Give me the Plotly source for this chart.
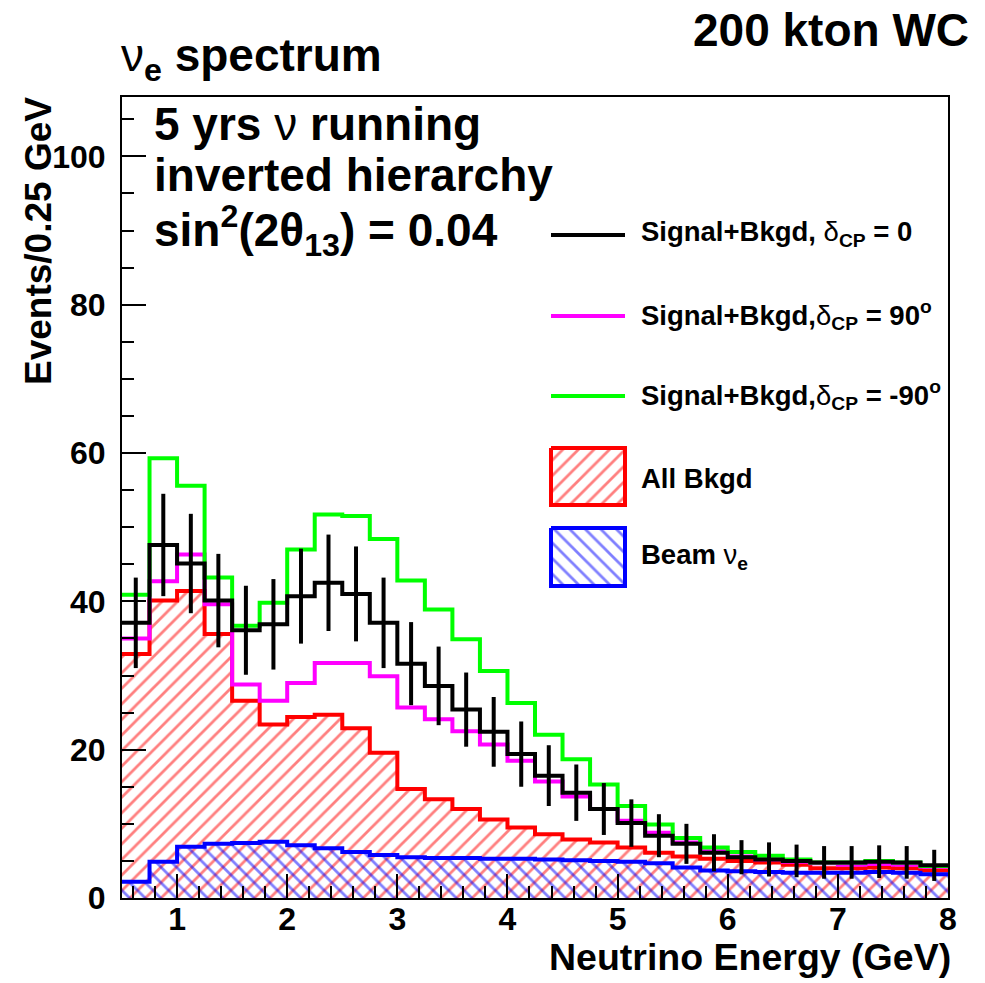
import plotly.graph_objects as go

# ---------------- data ----------------
bin_edges = [0.5 + 0.25 * i for i in range(31)]  # 0.5 ... 8.0 GeV, 0.25 GeV bins

sig_dcp0 = [37.1, 47.6, 45.1, 40.1, 36.1, 36.9, 40.7, 42.5, 41.0, 37.1,
            31.6, 28.6, 25.4, 22.4, 19.4, 16.5, 14.2, 12.0, 10.1, 8.4,
            7.3, 6.1, 5.5, 5.2, 5.0, 4.8, 4.8, 4.9, 4.8, 4.4]
err_dcp0 = [6.1, 6.9, 6.7, 6.3, 6.0, 6.1, 6.4, 6.5, 6.4, 6.1,
            5.6, 5.3, 5.0, 4.7, 4.4, 4.1, 3.8, 3.5, 3.2, 2.9,
            2.7, 2.5, 2.3, 2.3, 2.2, 2.2, 2.2, 2.2, 2.2, 2.1]
sig_dcp90 = [35.0, 42.7, 46.3, 39.6, 28.8, 26.6, 29.0, 31.7, 31.7, 29.9,
             25.7, 24.1, 22.5, 20.7, 18.5, 15.7, 13.7, 12.0, 10.4, 8.8,
             7.5, 6.3, 5.6, 5.2, 4.9, 4.7, 4.5, 4.6, 4.5, 4.2]
sig_dcpm90 = [40.9, 59.3, 55.6, 43.2, 36.7, 39.8, 47.0, 51.7, 51.5, 48.4,
              42.8, 38.9, 34.9, 30.6, 26.3, 22.0, 18.7, 15.3, 12.4, 9.9,
              8.1, 6.8, 6.2, 5.7, 5.2, 4.8, 4.8, 5.0, 4.8, 4.3]
all_bkgd = [32.9, 40.1, 41.4, 35.6, 26.6, 23.4, 24.4, 24.7, 22.9, 19.6,
            14.7, 13.3, 12.0, 10.6, 9.5, 8.6, 7.9, 7.5, 6.8, 6.1,
            5.6, 5.3, 5.0, 4.8, 4.5, 4.0, 4.0, 4.1, 4.0, 3.7]
beam_nue = [2.2, 4.9, 6.9, 7.3, 7.4, 7.6, 7.1, 6.7, 6.2, 5.8,
            5.5, 5.4, 5.4, 5.3, 5.3, 5.2, 5.1, 5.0, 4.9, 4.7,
            4.1, 3.7, 3.6, 3.5, 3.4, 3.4, 3.4, 3.5, 3.4, 3.2]

x_tick_vals = [1, 2, 3, 4, 5, 6, 7, 8]
y_tick_vals = [0, 20, 40, 60, 80, 100]

NU = '<span style="font-weight:normal">ν</span>'
DELTA = '<span style="font-weight:normal">δ</span>'
legend_labels = ["Signal+Bkgd, " + DELTA + "<sub>CP</sub> = 0",
                 "Signal+Bkgd," + DELTA + "<sub>CP</sub> = 90<sup>o</sup>",
                 "Signal+Bkgd," + DELTA + "<sub>CP</sub> = -90<sup>o</sup>",
                 "All Bkgd",
                 "Beam " + NU + "<sub>e</sub>"]

# ---------------- layout geometry ----------------
W, H = 985, 983
L, R, T, B = 122, 37, 97, 85
PW, PH = W - L - R, H - T - B


def px(x):
    return (x - L) / PW


def py(y):
    return (H - B - y) / PH


FONT = "Liberation Sans"
RED, BLUE, MAG, GRN, BLK = "#ff0000", "#0000ff", "#ff00ff", "#00ff00", "#000000"
HATCH_SIZE, HATCH_SOLID = 11, 0.25


def step_y(v):
    return list(v) + [v[-1]]


fig = go.Figure()

# All background (hatched /)
fig.add_trace(go.Scatter(
    x=bin_edges, y=step_y(all_bkgd), mode="lines",
    line=dict(shape="hv", color=RED, width=4),
    fill="tozeroy", fillcolor="rgba(0,0,0,0)",
    fillpattern=dict(shape="/", fgcolor=RED, bgcolor="rgba(0,0,0,0)",
                     size=HATCH_SIZE, solidity=HATCH_SOLID),
    showlegend=False, hoverinfo="skip"))
# Beam nu_e (hatched \)
fig.add_trace(go.Scatter(
    x=bin_edges, y=step_y(beam_nue), mode="lines",
    line=dict(shape="hv", color=BLUE, width=4),
    fill="tozeroy", fillcolor="rgba(0,0,0,0)",
    fillpattern=dict(shape="\\", fgcolor=BLUE, bgcolor="rgba(0,0,0,0)",
                     size=HATCH_SIZE, solidity=HATCH_SOLID),
    showlegend=False, hoverinfo="skip"))
for vals, col in [(sig_dcp90, MAG), (sig_dcpm90, GRN), (sig_dcp0, BLK)]:
    fig.add_trace(go.Scatter(
        x=bin_edges, y=step_y(vals), mode="lines",
        line=dict(shape="hv", color=col, width=4),
        showlegend=False, hoverinfo="skip"))
# error bars for delta_CP = 0
centers = [0.5 * (bin_edges[i] + bin_edges[i + 1]) for i in range(len(sig_dcp0))]
fig.add_trace(go.Scatter(
    x=centers, y=sig_dcp0, mode="markers",
    marker=dict(size=1, color=BLK),
    error_y=dict(type="data", array=err_dcp0, visible=True,
                 color=BLK, thickness=4, width=0),
    showlegend=False, hoverinfo="skip"))

# ---------------- legend (manual, ROOT style) ----------------
shapes = []
line_rows = [(235, BLK), (316, MAG), (396, GRN)]
for yy, col in line_rows:
    shapes.append(dict(type="line", xref="paper", yref="paper",
                       x0=px(551), x1=px(625), y0=py(yy), y1=py(yy),
                       line=dict(color=col, width=4)))
box_rows = [(448, 505, RED, "/"), (528, 586, BLUE, "\\")]
for y0, y1, col, pat in box_rows:
    fig.add_trace(go.Scatter(
        x=[px(551), px(625), px(625), px(551), px(551)],
        y=[py(y0), py(y0), py(y1), py(y1), py(y0)],
        xaxis="x2", yaxis="y2", mode="lines",
        line=dict(color=col, width=4),
        fill="toself", fillcolor="rgba(0,0,0,0)",
        fillpattern=dict(shape=pat, fgcolor=col, bgcolor="rgba(0,0,0,0)",
                         size=HATCH_SIZE, solidity=HATCH_SOLID),
        showlegend=False, hoverinfo="skip"))

annotations = []
leg_text_y = [234, 315, 395, 478, 556]
for txt, yy in zip(legend_labels, leg_text_y):
    annotations.append(dict(text=txt, xref="paper", yref="paper",
                            x=px(639), y=py(yy), xanchor="left", yanchor="middle",
                            showarrow=False,
                            font=dict(family=FONT, size=27.5, color=BLK, weight="bold")))

# text block
block = ["5 yrs " + NU + " running",
         "inverted hierarchy",
         "sin<sup>2</sup>(2θ<sub>13</sub>) = 0.04"]
for txt, yy in zip(block, [124, 175, 231]):
    annotations.append(dict(text=txt, xref="paper", yref="paper",
                            x=px(152), y=py(yy), xanchor="left", yanchor="middle",
                            showarrow=False,
                            font=dict(family=FONT, size=46, color=BLK, weight="bold")))

# titles
annotations.append(dict(text=NU + "<sub>e</sub> spectrum",
                        xref="paper", yref="paper", x=px(119), y=py(58),
                        xanchor="left", yanchor="middle", showarrow=False,
                        font=dict(family=FONT, size=46, color=BLK, weight="bold")))
annotations.append(dict(text="200 kton WC", xref="paper", yref="paper",
                        x=px(971), y=py(30), xanchor="right", yanchor="middle",
                        showarrow=False,
                        font=dict(family=FONT, size=46, color=BLK, weight="bold")))
# axis titles
annotations.append(dict(text="Neutrino Energy (GeV)", xref="paper", yref="paper",
                        x=px(953), y=py(957), xanchor="right", yanchor="middle",
                        showarrow=False,
                        font=dict(family=FONT, size=37.5, color=BLK, weight="bold")))
annotations.append(dict(text="Events/0.25 GeV", xref="paper", yref="paper",
                        x=px(38), y=py(95), xanchor="center", yanchor="top",
                        textangle=-90, showarrow=False,
                        font=dict(family=FONT, size=37, color=BLK, weight="bold")))

tickfont = dict(family=FONT, size=32, color=BLK, weight="bold")
fig.update_layout(
    width=W, height=H,
    margin=dict(l=L, r=R, t=T, b=B, pad=0),
    paper_bgcolor="white", plot_bgcolor="white",
    showlegend=False,
    xaxis=dict(range=[0.5, 8.0], tickvals=x_tick_vals, ticks="inside",
               ticklen=24, tickwidth=1.5, tickcolor=BLK,
               minor=dict(ticks="inside", ticklen=12, dtick=0.2, tick0=0,
                          tickcolor=BLK, tickwidth=1.5),
               showline=True, linecolor=BLK, linewidth=2, mirror=True,
               showgrid=False, zeroline=False, tickfont=tickfont,
               ticklabelstandoff=-8),
    yaxis=dict(range=[0, 108], tickvals=y_tick_vals, ticks="inside",
               ticklen=24, tickwidth=1.5, tickcolor=BLK,
               minor=dict(ticks="inside", ticklen=12, dtick=5, tick0=0,
                          tickcolor=BLK, tickwidth=1.5),
               showline=True, linecolor=BLK, linewidth=2, mirror=True,
               showgrid=False, zeroline=False, tickfont=tickfont,
               ticklabelstandoff=8),
    xaxis2=dict(overlaying="x", range=[0, 1], visible=False, fixedrange=True),
    yaxis2=dict(overlaying="y", range=[0, 1], visible=False, fixedrange=True),
    shapes=shapes,
    annotations=annotations,
)

fig.write_html("out.html")
